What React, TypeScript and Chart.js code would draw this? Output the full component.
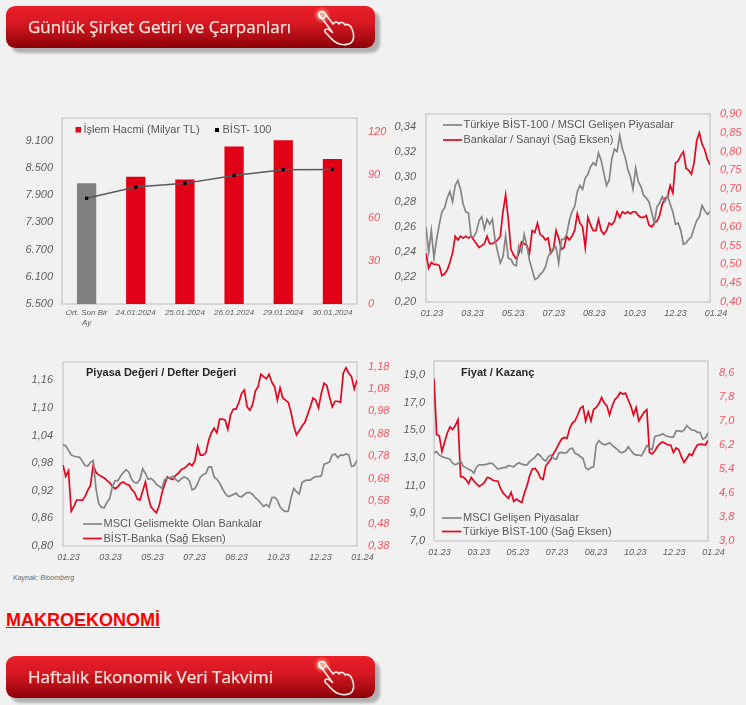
import React, { useEffect, useRef } from "react";
import { Chart, registerables } from "chart.js";

Chart.register(...registerables);

const barCategories = [["Ort. Son Bir", "Ay"], "24.01.2024", "25.01.2024", "26.01.2024", "29.01.2024", "30.01.2024"];
const volumeValues = [84.4, 89, 87, 110, 114.4, 101.4];
const bist100Values = [7830, 8078, 8159, 8335, 8460, 8467];
const volumeTicks = [0, 30, 60, 90, 120];
const indexTicks = [5500, 6100, 6700, 7300, 7900, 8500, 9100];

const monthTicks = ["01.23", "03.23", "05.23", "07.23", "08.23", "10.23", "12.23", "01.24"];

const relativeMsci = [
  .260, .240, .257, .235, .250, .262, .272, .275, .283, .288, .280, .293, .297, .290, .278, .272, .271, .252, .252, .256, .265, .268, .258, .266, .262, .266, .250, .240, .231, .236, .253, .235, .234, .230, .229, .245, .240, .254, .245, .233, .226, .218, .219, .222, .224, .228, .236, .240, .243, .244, .231, .250, .250, .254, .265, .272, .276, .288, .293, .290, .299, .302, .308, .311, .309, .319, .313, .303, .293, .297, .314, .322, .320, .333, .322, .316, .306, .300, .290, .307, .296, .292, .285, .283, .280, .272, .263, .276, .279, .284, .280, .285, .278, .272, .262, .263, .257, .246, .247, .250, .252, .259, .265, .268, .277, .273, .270, .272,
];
const banksIndustry = [
  .530, .490, .505, .500, .500, .497, .470, .475, .485, .505, .530, .575, .565, .575, .570, .575, .570, .575, .565, .555, .545, .550, .555, .575, .555, .555, .560, .565, .575, .640, .685, .620, .540, .525, .515, .530, .560, .555, .550, .530, .590, .585, .610, .580, .575, .565, .570, .530, .540, .590, .570, .540, .545, .575, .565, .575, .590, .635, .610, .600, .545, .625, .605, .590, .590, .620, .590, .580, .590, .610, .605, .615, .640, .625, .640, .635, .640, .635, .640, .640, .630, .625, .625, .630, .605, .600, .610, .615, .630, .660, .675, .680, .710, .690, .770, .775, .790, .800, .755, .750, .740, .770, .830, .850, .820, .805, .780, .765,
];
const relativeTicks = [.20, .22, .24, .26, .28, .30, .32, .34];
const ratioTicks = [.40, .45, .50, .55, .60, .65, .70, .75, .80, .85, .90];

const msciBanksPb = [
  1.020, 1.018, 1.008, .998, .995, .994, .993, .985, .975, .974, .982, .986, .925, .892, .884, .883, .895, .903, .930, .942, .942, .952, .960, .966, .960, .945, .938, .937, .945, .968, .958, .945, .947, .942, .934, .930, .925, .945, .947, .948, .952, .945, .940, .946, .950, .948, .942, .922, .925, .936, .950, .955, .958, .972, .972, .950, .945, .937, .925, .914, .908, .909, .912, .915, .908, .907, .912, .916, .916, .912, .905, .900, .893, .886, .890, .885, .905, .906, .900, .885, .878, .875, .876, .905, .925, .918, .913, .938, .942, .943, .943, .948, .951, .951, .952, .978, .980, .983, .998, 1.000, .992, .998, .997, 1.000, .998, .973, .975, .986,
];
const bistBanksPb = [
  .741, .690, .715, .535, .558, .585, .585, .583, .600, .628, .650, .741, .708, .697, .690, .683, .672, .662, .645, .635, .645, .660, .665, .655, .652, .632, .620, .590, .585, .625, .665, .600, .555, .540, .528, .560, .615, .655, .688, .680, .676, .695, .704, .720, .726, .735, .748, .738, .760, .825, .785, .785, .795, .850, .885, .905, .885, .945, .945, .942, .900, .965, .990, .990, 1.020, 1.060, 1.075, 1.000, .985, 1.010, 1.070, 1.090, 1.145, 1.135, 1.125, 1.145, 1.110, 1.090, 1.030, 1.085, 1.040, 1.030, 1.020, .975, .915, .875, .895, .915, .930, .965, 1.000, 1.040, 1.030, .995, 1.060, 1.105, 1.095, 1.045, 1.000, 1.025, 1.025, 1.020, 1.150, 1.175, 1.150, 1.135, 1.080, 1.120,
];
const pbLeftTicks = [.80, .86, .92, .98, 1.04, 1.10, 1.16];
const pbRightTicks = [.38, .48, .58, .68, .78, .88, .98, 1.08, 1.18];

const msciEmPe = [
  13.35, 13.45, 13.20, 13.10, 13.02, 12.98, 12.90, 12.62, 12.50, 12.60, 12.78, 12.40, 12.30, 12.18, 12.10, 11.90, 12.35, 12.50, 12.50, 12.52, 12.55, 12.62, 12.60, 12.40, 12.20, 12.25, 12.30, 12.30, 12.45, 12.40, 12.35, 12.55, 12.65, 12.55, 12.50, 12.50, 12.75, 12.90, 13.05, 13.30, 13.15, 12.90, 12.78, 13.10, 13.20, 12.95, 12.90, 13.35, 13.40, 13.35, 13.40, 13.65, 13.70, 13.35, 13.25, 13.10, 12.95, 12.30, 12.15, 12.30, 12.35, 13.95, 14.25, 14.05, 13.95, 14.00, 14.10, 13.90, 13.75, 13.60, 13.40, 13.40, 13.50, 13.80, 13.55, 13.30, 13.20, 13.20, 13.15, 13.50, 13.90, 13.70, 13.60, 14.55, 14.60, 14.65, 14.75, 14.60, 14.55, 14.50, 14.50, 14.95, 14.95, 14.90, 15.00, 15.33, 15.15, 15.00, 15.00, 14.85, 14.85, 14.35, 14.45, 14.80,
];
const bist100Pe = [
  8.41, 6.55, 6.50, 5.98, 6.30, 6.60, 6.80, 6.72, 6.85, 7.04, 5.15, 5.13, 5.05, 4.92, 5.12, 5.00, 4.90, 4.82, 4.88, 4.95, 5.12, 5.10, 5.03, 5.00, 5.00, 4.75, 4.60, 4.50, 4.42, 4.62, 4.32, 4.40, 4.33, 4.28, 4.60, 4.85, 5.19, 5.40, 5.42, 5.30, 5.10, 5.05, 5.50, 5.62, 5.75, 5.92, 6.08, 6.25, 6.40, 6.45, 6.42, 6.75, 6.93, 7.00, 7.20, 7.42, 7.49, 7.00, 7.30, 7.00, 7.38, 7.45, 7.58, 7.78, 7.60, 7.50, 7.20, 7.50, 7.72, 7.80, 7.95, 7.90, 7.93, 7.70, 7.50, 7.20, 7.45, 7.00, 7.15, 7.30, 7.38, 5.95, 5.90, 6.00, 6.15, 6.25, 6.30, 6.25, 6.20, 6.20, 5.95, 6.10, 6.05, 5.80, 5.62, 5.75, 5.90, 5.85, 6.05, 6.20, 6.23, 6.22, 6.20, 6.35,
];
const peLeftTicks = [7, 9, 11, 13, 15, 17, 19];
const peRightTicks = [3.0, 3.8, 4.6, 5.4, 6.2, 7.0, 7.8, 8.6];

const GRAY_LINE = "#858585";
const RED_LINE = "#e2071f";
const LEFT_TICK = "#5c5c5c";
const RIGHT_TICK = "#f4535f";
const FRAME = "#bcbcbc";
const FONT = "'Liberation Sans', Arial, sans-serif";

type Box = { x0: number; y0: number; x1: number; y1: number };

const thousands = (v: number) => String(v).replace(/(\d)(\d{3})$/, "$1.$2");
const comma2 = (v: number) => v.toFixed(2).replace(".", ",");
const comma1 = (v: number) => v.toFixed(1).replace(".", ",");

const frameOptions = (canvasBox: any, plot: Box) => ({
  left: plot.x0 - canvasBox.l,
  right: canvasBox.l + canvasBox.w - plot.x1,
  top: plot.y0 - canvasBox.t,
  bottom: canvasBox.t + canvasBox.h - plot.y1,
});

const noAxisPadding = (axis: any) => {
  axis.paddingTop = 0;
  axis.paddingBottom = 0;
  axis.paddingLeft = 0;
  axis.paddingRight = 0;
};

const valueAxis = (
  position: "left" | "right",
  ticks: number[],
  min: number,
  max: number,
  format: (v: number) => string,
  width: number,
  padding: number,
  size = 11,
) => ({
  type: "linear",
  position,
  min,
  max,
  grid: { display: false, drawTicks: false },
  border: { display: false },
  afterBuildTicks: (axis: any) => {
    axis.ticks = ticks.map((value) => ({ value }));
  },
  afterFit: (axis: any) => {
    axis.width = width;
    noAxisPadding(axis);
  },
  ticks: {
    autoSkip: false,
    padding,
    color: position === "left" ? LEFT_TICK : RIGHT_TICK,
    font: { family: FONT, style: "italic", size },
    callback: (v: number) => format(v),
  },
});

const framePlugin = (canvasBox: any, legend: any[], title?: any, extra?: (c: any) => void) => ({
  id: "frameAndLegend",
  beforeDatasetsDraw(chart: any) {
    const { ctx, chartArea: a } = chart;
    ctx.save();
    ctx.strokeStyle = FRAME;
    ctx.lineWidth = 1;
    ctx.strokeRect(a.left, a.top, a.right - a.left, a.bottom - a.top);
    ctx.restore();
  },
  afterDraw(chart: any) {
    const { ctx } = chart;
    ctx.save();
    ctx.textBaseline = "middle";
    ctx.font = `11px ${FONT}`;
    for (const item of legend) {
      const ds = chart.data.datasets[item.index];
      const lx = item.x - canvasBox.l;
      const ly = item.y - canvasBox.t;
      ctx.strokeStyle = ds.borderColor;
      ctx.lineWidth = 1.7;
      ctx.beginPath();
      ctx.moveTo(lx, ly);
      ctx.lineTo(lx + item.len, ly);
      ctx.stroke();
      ctx.fillStyle = "#595959";
      ctx.fillText(ds.label, lx + item.len + 1.5, ly);
    }
    if (title) {
      ctx.font = `bold 11px ${FONT}`;
      ctx.fillStyle = "#262626";
      ctx.fillText(title.text, title.x - canvasBox.l, title.y - canvasBox.t);
    }
    if (extra) extra(chart);
    ctx.restore();
  },
});

function LineChart({ canvasBox, plot, left, right, labelOffset, legend, title }: any) {
  const ref = useRef<HTMLCanvasElement>(null);
  useEffect(() => {
    const pads = frameOptions(canvasBox, plot);
    const series = (label: string, values: number[], color: string, yAxisID: string) => ({
      label,
      data: values.map((y, i) => ({ x: i / (values.length - 1), y })),
      borderColor: color,
      borderWidth: 1.7,
      pointRadius: 0,
      tension: 0,
      yAxisID,
    });
    const chart = new Chart(ref.current!, {
      type: "line",
      data: {
        datasets: [
          series(left.label, left.values, GRAY_LINE, "yL"),
          series(right.label, right.values, RED_LINE, "yR"),
        ],
      },
      options: {
        animation: false,
        responsive: false,
        layout: { padding: { top: pads.top } },
        plugins: { legend: { display: false }, tooltip: { enabled: false } },
        scales: {
          x: {
            type: "linear",
            min: 0,
            max: 1,
            grid: { display: false, drawTicks: false },
            border: { display: false },
            afterBuildTicks: (axis: any) => {
              axis.ticks = monthTicks.map((_, k) => ({ value: k / (monthTicks.length - 1) }));
            },
            afterFit: (axis: any) => {
              axis.height = pads.bottom;
              noAxisPadding(axis);
            },
            ticks: {
              autoSkip: false,
              maxRotation: 0,
              padding: 6,
              labelOffset,
              color: LEFT_TICK,
              font: { family: FONT, style: "italic", size: 9 },
              callback: (_: number, i: number) => monthTicks[i],
            },
          },
          yL: valueAxis("left", left.ticks, left.min, left.max, left.format, pads.left, left.pad),
          yR: valueAxis("right", right.ticks, right.min, right.max, right.format, pads.right, right.pad),
        } as any,
      } as any,
      plugins: [framePlugin(canvasBox, legend, title)],
    } as any);
    return () => chart.destroy();
  }, []);
  return (
    <canvas
      ref={ref}
      width={canvasBox.w}
      height={canvasBox.h}
      style={{ position: "absolute", left: canvasBox.l, top: canvasBox.t, width: canvasBox.w, height: canvasBox.h, filter: "blur(0.4px)" }}
    />
  );
}

function BarChart() {
  const ref = useRef<HTMLCanvasElement>(null);
  const canvasBox = { l: 8, t: 105, w: 385, h: 225 };
  const plot = { x0: 62, y0: 118, x1: 357, y1: 304 };
  useEffect(() => {
    const pads = frameOptions(canvasBox, plot);
    const drawLegend = (chart: any) => {
      const { ctx } = chart;
      ctx.font = `11px ${FONT}`;
      ctx.textBaseline = "middle";
      ctx.fillStyle = RED_LINE;
      ctx.fillRect(75.5 - canvasBox.l, 127 - canvasBox.t, 5.5, 5.5);
      ctx.fillStyle = "#595959";
      ctx.fillText(chart.data.datasets[1].label, 83.5 - canvasBox.l, 130 - canvasBox.t);
      ctx.fillStyle = "#000";
      ctx.fillRect(215 - canvasBox.l, 128 - canvasBox.t, 4, 4);
      ctx.fillStyle = "#595959";
      ctx.fillText(chart.data.datasets[0].label, 222.5 - canvasBox.l, 130 - canvasBox.t);
    };
    const chart = new Chart(ref.current!, {
      type: "bar",
      data: {
        labels: barCategories,
        datasets: [
          {
            type: "line",
            label: "BİST- 100",
            data: bist100Values,
            yAxisID: "yL",
            borderColor: "#595959",
            borderWidth: 1.5,
            pointStyle: "rect",
            pointRadius: 2.3,
            pointBackgroundColor: "#000",
            pointBorderColor: "#000",
            pointBorderWidth: 0,
            tension: 0,
            order: 0,
          },
          {
            type: "bar",
            label: "İşlem Hacmi (Milyar TL)",
            data: volumeValues,
            yAxisID: "yR",
            backgroundColor: (c: any) => (c.dataIndex === 0 ? "#808080" : "#e10016"),
            categoryPercentage: 0.8,
            barPercentage: 0.49,
            order: 1,
          },
        ],
      },
      options: {
        animation: false,
        responsive: false,
        layout: { padding: { top: pads.top } },
        plugins: { legend: { display: false }, tooltip: { enabled: false } },
        scales: {
          x: {
            grid: { display: false, drawTicks: false },
            border: { display: false },
            afterFit: (axis: any) => {
              axis.height = pads.bottom;
              noAxisPadding(axis);
            },
            ticks: {
              autoSkip: false,
              maxRotation: 0,
              padding: 4,
              color: LEFT_TICK,
              font: { family: FONT, style: "italic", size: 8 },
            },
          },
          yL: valueAxis("left", indexTicks, 5500, 9600, thousands, pads.left, 9),
          yR: valueAxis("right", volumeTicks, 0, 130, (v) => String(v), pads.right, 11),
        } as any,
      } as any,
      plugins: [framePlugin(canvasBox, [], undefined, drawLegend)],
    } as any);
    return () => chart.destroy();
  }, []);
  return (
    <canvas
      ref={ref}
      width={canvasBox.w}
      height={canvasBox.h}
      style={{ position: "absolute", left: canvasBox.l, top: canvasBox.t, width: canvasBox.w, height: canvasBox.h, filter: "blur(0.4px)" }}
    />
  );
}

function Banner({ top, text, textWidth }: { top: number; text: string; textWidth: number }) {
  return (
    <div
      style={{
        position: "absolute",
        left: 6,
        top,
        width: 369,
        height: 42,
        borderRadius: 9,
        background: "linear-gradient(#ea1f2a 0%, #d81822 40%, #a70a12 80%, #8a0006 100%)",
        boxShadow: "5px 5px 3px #b0b0b0",
      }}
    >
      <svg width={369} height={42} style={{ position: "absolute", left: 0, top: 0 }}>
        <defs>
          <radialGradient id={`glow${top}`}>
            <stop offset="0%" stopColor="#ffd0b0" stopOpacity="0.95" />
            <stop offset="100%" stopColor="#ff8a60" stopOpacity="0" />
          </radialGradient>
        </defs>
        <circle cx={316} cy={9} r={9} fill={`url(#glow${top})`} />
        <circle cx={316} cy={9} r={3.5} fill="none" stroke="#fff" strokeWidth={1.5} />
        <path
          d="M312.5 7.5 C314.5 5 318 5.5 319.5 8 L327 18 C328.5 15.5 332 15.5 333 18 C334.5 15.5 338 16 339 19 C341 17.5 345 19 346 23 C349 29 348 35 344 37.5 C339 39.5 334 38.5 331 37 C327 35 324.5 32 322 29 L319 26 C318 23 321.5 22 324 24.5 L326.5 26.5 L318 15 Z"
          fill="none"
          stroke="#fbeee6"
          strokeWidth={1.6}
          strokeLinejoin="round"
        />
      </svg>
      <svg width={300} height={42} style={{ position: "absolute", left: 22, top: 0 }}>
        <text
          x={0}
          y={27}
          textLength={textWidth}
          lengthAdjust="spacingAndGlyphs"
          style={{ font: "500 16.5px 'Open Sans', sans-serif", fill: "#f7e4df", stroke: "#f7e4df", strokeWidth: 0.25, filter: "blur(0.3px)" }}
        >
          {text}
        </text>
      </svg>
    </div>
  );
}

export default function App() {
  useEffect(() => {
    document.body.style.background = "#f1f1f1";
  }, []);
  return (
    <div style={{ position: "absolute", left: 0, top: 0, width: 746, height: 705, background: "#f1f1f1", overflow: "hidden" }}>
      <Banner top={6} text="Günlük Şirket Getiri ve Çarpanları" textWidth={263} />
      <BarChart />
      <LineChart
        canvasBox={{ l: 390, t: 100, w: 356, h: 225 }}
        plot={{ x0: 426, y0: 114, x1: 710, y1: 302 }}
        labelOffset={6}
        left={{ label: "Türkiye BİST-100 / MSCI Gelişen Piyasalar", values: relativeMsci, ticks: relativeTicks, min: 0.2, max: 0.35, format: comma2, pad: 10 }}
        right={{ label: "Bankalar / Sanayi (Sağ Eksen)", values: banksIndustry, ticks: ratioTicks, min: 0.4, max: 0.9, format: comma2, pad: 10 }}
        legend={[
          { index: 0, x: 443, y: 125, len: 19 },
          { index: 1, x: 443, y: 140, len: 19 },
        ]}
      />
      <LineChart
        canvasBox={{ l: 8, t: 350, w: 385, h: 220 }}
        plot={{ x0: 63, y0: 362, x1: 357, y1: 546 }}
        labelOffset={5.5}
        left={{ label: "MSCI Gelismekte Olan Bankalar", values: msciBanksPb, ticks: pbLeftTicks, min: 0.8, max: 1.2, format: comma2, pad: 10 }}
        right={{ label: "BİST-Banka (Sağ Eksen)", values: bistBanksPb, ticks: pbRightTicks, min: 0.38, max: 1.2, format: comma2, pad: 11 }}
        legend={[
          { index: 0, x: 83, y: 524, len: 19 },
          { index: 1, x: 83, y: 538.5, len: 19 },
        ]}
        title={{ text: "Piyasa Değeri / Defter Değeri", x: 86, y: 373 }}
      />
      <LineChart
        canvasBox={{ l: 390, t: 350, w: 356, h: 220 }}
        plot={{ x0: 434, y0: 361, x1: 708, y1: 541 }}
        labelOffset={5.5}
        left={{ label: "MSCI Gelişen Piyasalar", values: msciEmPe, ticks: peLeftTicks, min: 7, max: 20, format: comma1, pad: 9 }}
        right={{ label: "Türkiye BİST-100 (Sağ Eksen)", values: bist100Pe, ticks: peRightTicks, min: 3, max: 9, format: comma1, pad: 11 }}
        legend={[
          { index: 0, x: 442, y: 518, len: 19.5 },
          { index: 1, x: 442, y: 531.5, len: 19.5 },
        ]}
        title={{ text: "Fiyat / Kazanç", x: 461, y: 373 }}
      />
      <div
        style={{
          position: "absolute",
          left: 13,
          top: 574,
          font: `italic 7px ${FONT}`,
          color: "#6a6a6a",
        }}
      >
        Kaynak: Bloomberg
      </div>
      <div
        style={{
          position: "absolute",
          left: 6,
          top: 610,
          font: `bold 18px ${FONT}`,
          color: "#ff0000",
          textDecoration: "underline",
        }}
      >
        MAKROEKONOMİ
      </div>
      <Banner top={656} text="Haftalık Ekonomik Veri Takvimi" textWidth={245} />
    </div>
  );
}
